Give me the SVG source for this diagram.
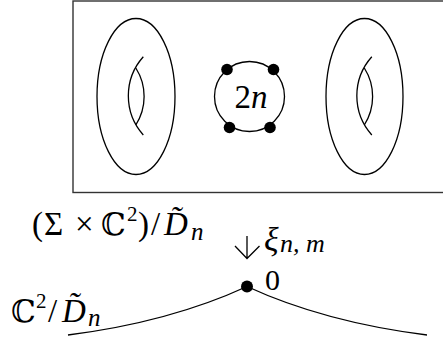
<svg xmlns="http://www.w3.org/2000/svg" width="443" height="341" viewBox="0 0 443 341">
<style>
.ln{fill:none;stroke:#000;stroke-width:1.3}
.frame{fill:none;stroke:#333;stroke-width:1.4}
.dot{fill:#000}
.t{font-family:'Liberation Serif','DejaVu Serif',serif;fill:#000}
.i{font-style:italic}
.bb{font-size:31px}
.sup{font-size:21px}
.sub{font-size:25px;font-style:italic}
</style>
<defs>
<g id="hole">
<path class="ln" d="M143.3,56.7 A58.7,58.7 0 0 0 143.3,135"/>
<path class="ln" d="M135.8,68 A53,53 0 0 1 135.8,125"/>
</g>
</defs>
<rect width="443" height="341" fill="#fff"/>
<g id="fibre-frame">
<rect class="frame" x="73" y="1" width="390" height="191.5"/>
</g>
<g id="torus-left">
<ellipse class="ln" cx="136" cy="96.5" rx="39" ry="78"/>
<use href="#hole"/>
</g>
<g id="torus-right">
<ellipse class="ln" cx="364.5" cy="96.5" rx="38.5" ry="78"/>
<use href="#hole" transform="translate(228.5,0)"/>
</g>
<g id="orbifold-points">
<circle class="ln" cx="249.5" cy="96.5" r="35"/>
<circle class="dot" cx="227" cy="69.5" r="5.8"/>
<circle class="dot" cx="273.5" cy="69.5" r="5.8"/>
<circle class="dot" cx="229.5" cy="127.5" r="5.8"/>
<circle class="dot" cx="270" cy="127.5" r="5.8"/>
<text class="t" x="234.5" y="107.5" font-size="33">2<tspan class="i">n</tspan></text>
</g>
<g id="total-space-label">
<text class="t" font-size="33" y="235"><tspan x="32">(</tspan><tspan x="44">Σ</tspan><tspan x="75">×</tspan><tspan class="bb" x="101">ℂ</tspan><tspan class="sup" x="127" y="221">2</tspan><tspan x="138" y="235">)</tspan><tspan x="151">/</tspan><tspan x="164" class="i">D̃</tspan><tspan class="sub" x="191" y="240">n</tspan></text>
</g>
<g id="connectors">
<path class="ln" d="M247,236 V258.5 M235,246 L247,258.5 L259.5,246"/>
</g>
<g id="map-label">
<text class="t i" font-size="34" x="264" y="251">ξ<tspan font-size="26" x="280" y="252">n, m</tspan></text>
</g>
<g id="base">
<path class="ln" d="M68,335 Q170,322 247,286.5"/>
<path class="ln" d="M247,286.5 Q324,322 427,335"/>
<circle class="dot" cx="247" cy="286.5" r="6"/>
<text class="t" font-size="30" x="265" y="290">0</text>
<text class="t" font-size="33" y="321.7"><tspan class="bb" x="11">ℂ</tspan><tspan class="sup" x="36" y="308">2</tspan><tspan x="48" y="321.7">/</tspan><tspan x="62" class="i">D̃</tspan><tspan class="sub" x="88" y="326">n</tspan></text>
</g>
</svg>
